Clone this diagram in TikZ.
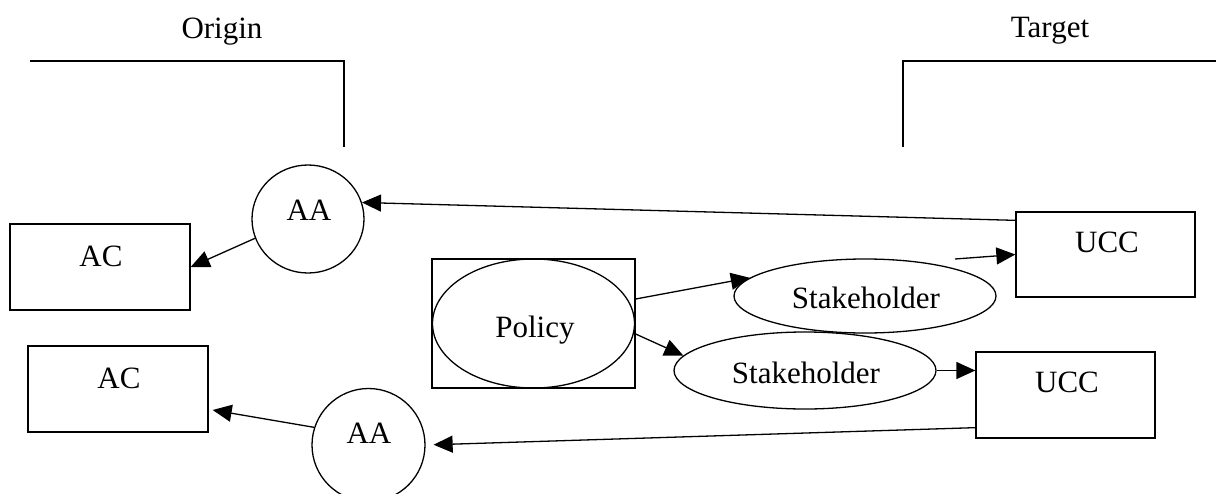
\documentclass[tikz,border=0pt]{standalone}
\usepackage{fontspec}
\setmainfont{Liberation Serif}
\usetikzlibrary{arrows.meta,shapes.geometric,calc}
\begin{document}
\begin{tikzpicture}[x=1pt,y=-1pt,
  every path/.style={line width=1.3pt},
  boxnode/.style={draw,rectangle,inner sep=0pt,minimum width=#1},
  ellnode/.style={draw,ellipse,inner sep=0pt},
  txt/.style={inner sep=0pt,anchor=base,font=\fontsize{31}{37}\selectfont},
  arr/.style={-{Triangle[length=19pt,width=17pt]}}]
\useasboundingbox (0,0) rectangle (1216,493);
% brackets
\draw (30,61) -- (344,61) -- (344,147);
\draw (903,147) -- (903,61) -- (1216,61);
\node[txt] (tOrigin) at (222,38) {Origin};
\node[txt] (tTarget) at (1050,37) {Target};
% boxes
\node[boxnode=180pt,minimum height=86pt] (ac1) at (100,267) {};
\node[boxnode=180pt,minimum height=86pt] (ac2) at (118,389) {};
\node[boxnode=179pt,minimum height=85pt] (ucc1) at (1105.5,254.5) {};
\node[boxnode=179pt,minimum height=86pt] (ucc2) at (1065.5,395) {};
\node[boxnode=203pt,minimum height=129pt] (pbox) at (533.5,323.5) {};
\node[ellnode,minimum width=202pt,minimum height=129pt] (policy) at (533.5,323.5) {};
\node[ellnode,minimum width=112pt,minimum height=108pt] (aa1) at (308,219) {};
\node[ellnode,minimum width=113pt,minimum height=113pt] (aa2) at (368.5,445) {};
\node[ellnode,minimum width=262pt,minimum height=74pt] (sh1) at (865,296) {};
\node[ellnode,minimum width=262pt,minimum height=77pt] (sh2) at (805,370.5) {};
% labels
\node[txt] (lac1) at (101,266) {AC};
\node[txt] (lac2) at (119,388) {AC};
\node[txt] (laa1) at (309,220) {AA};
\node[txt] (laa2) at (369,443) {AA};
\node[txt] (lpol) at (535,337) {Policy};
\node[txt] (lsh1) at (866,308) {Stakeholder};
\node[txt] (lsh2) at (806,383) {Stakeholder};
\node[txt] (lucc1) at (1107,252) {UCC};
\node[txt] (lucc2) at (1067,392) {UCC};
% connectors
\coordinate (s1out) at (955,259);
\draw[arr] ([yshift=-9pt]ucc1.north west) -- (aa1.17);
\draw[arr,shorten >=8pt] ([yshift=11pt]ucc2.south west) -- (aa2.east);
\draw[arr] (aa1.200) -- (ac1.east);
\draw[arr] (aa2.162) -- ([xshift=4pt,yshift=-21pt]ac2.east);
\draw[arr] ([yshift=24.5pt]pbox.east) -- (sh1.171);
\draw[arr] ([yshift=-10.5pt]pbox.east) -- (sh2.173);
\draw[arr] (s1out) -- (ucc1.west);
\draw[arr] (sh2.east) -- (sh2.east -| ucc2.west);
\end{tikzpicture}
\end{document}
